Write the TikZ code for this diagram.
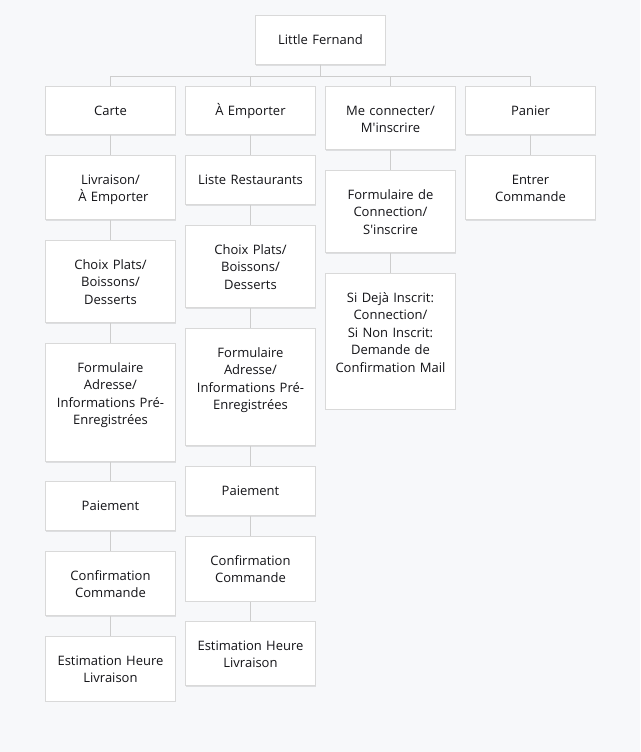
\documentclass[tikz,border=0pt]{standalone}
\usepackage{fontspec}
\setmainfont{Open Sans}
\usepackage{tikz}
\usetikzlibrary{positioning,shadows}

\definecolor{bgcol}{HTML}{F7F8FA}
\definecolor{boxline}{HTML}{D9D9D9}
\definecolor{linkcol}{HTML}{CDCDCD}
\definecolor{txtcol}{HTML}{141418}

\tikzset{
  page/.style={x=1pt, y=-1pt},
  item/.style={draw=boxline, fill=white, line width=1pt, anchor=north,
    text width=120pt, minimum width=130pt, inner xsep=5pt, inner ysep=0pt,
    align=center, text height=28.5pt, text depth=#1,
    font=\fontsize{13}{17.6}\selectfont, text=txtcol,
    drop shadow={shadow xshift=0.6pt, shadow yshift=-1.2pt, opacity=0.10, fill=black}},
  link/.style={draw=linkcol, line width=1pt}
}

\begin{document}
\begin{tikzpicture}[page]
  % page
  \fill[bgcol] (0,0) rectangle (640,752);
  \useasboundingbox (0,0) rectangle (640,752);

  % root
  \node[item=19.5pt, text height=29.5pt] (fernand) at (320.5,15) {Little Fernand};

  % Carte
  \node[item=19.5pt] (carte)  at (110.5,86)  {Carte};
  \node[item=35.5pt] (livr1)  at (110.5,155) {Livraison/\\\hspace*{0.45em}À Emporter};
  \node[item=53.5pt] (choix1) at (110.5,240) {Choix Plats/\\Boissons/\\Desserts};
  \node[item=89.5pt] (form1)  at (110.5,343) {Formulaire\\Adresse/\\Informations Pré-\\Enregistrées};
  \node[item=20.5pt] (paie1)  at (110.5,481) {Paiement};
  \node[item=35.5pt] (conf1)  at (110.5,551) {Confirmation\\Commande};
  \node[item=36pt]   (esti1)  at (110.5,636) {Estimation Heure\\Livraison};

  % A emporter
  \node[item=19.5pt] (emporter) at (250.5,86)  {À Emporter};
  \node[item=20.5pt] (liste)    at (250.5,155) {Liste Restaurants};
  \node[item=53.5pt] (choix2)   at (250.5,225) {Choix Plats/\\Boissons/\\Desserts};
  \node[item=88.5pt] (form2)    at (250.5,328) {Formulaire\\Adresse/\\Informations Pré-\\Enregistrées};
  \node[item=20.5pt] (paie2)    at (250.5,466) {Paiement};
  \node[item=36pt]   (conf2)    at (250.5,536) {Confirmation\\Commande};
  \node[item=35.5pt] (esti2)    at (250.5,621) {Estimation Heure\\Livraison};

  % Compte
  \node[item=34.5pt]  (connecter) at (390.5,86)  {Me connecter/\\M\textquotesingle inscrire};
  \node[item=53.5pt]  (formconn)  at (390.5,170) {Formulaire de\\Connection/\\S\textquotesingle inscrire};
  \node[item=107pt]   (inscrit)   at (390.5,273) {Si Dejà Inscrit:\\Connection/\\Si Non Inscrit:\\Demande de\\Confirmation Mail};

  % Panier
  \node[item=19.5pt] (panier) at (530.5,86)  {Panier};
  \node[item=35.5pt] (entrer) at (530.5,155) {Entrer\\Commande};

  % tree links
  \foreach \c in {carte,emporter,connecter,panier}
    \draw[link] (fernand.south) -- ++(0,11) -| (\c.north);

  \foreach \a/\b in {carte/livr1, livr1/choix1, choix1/form1, form1/paie1, paie1/conf1, conf1/esti1,
                     emporter/liste, liste/choix2, choix2/form2, form2/paie2, paie2/conf2, conf2/esti2,
                     connecter/formconn, formconn/inscrit, panier/entrer}
    \draw[link] (\a) -- (\b);

\end{tikzpicture}
\end{document}
